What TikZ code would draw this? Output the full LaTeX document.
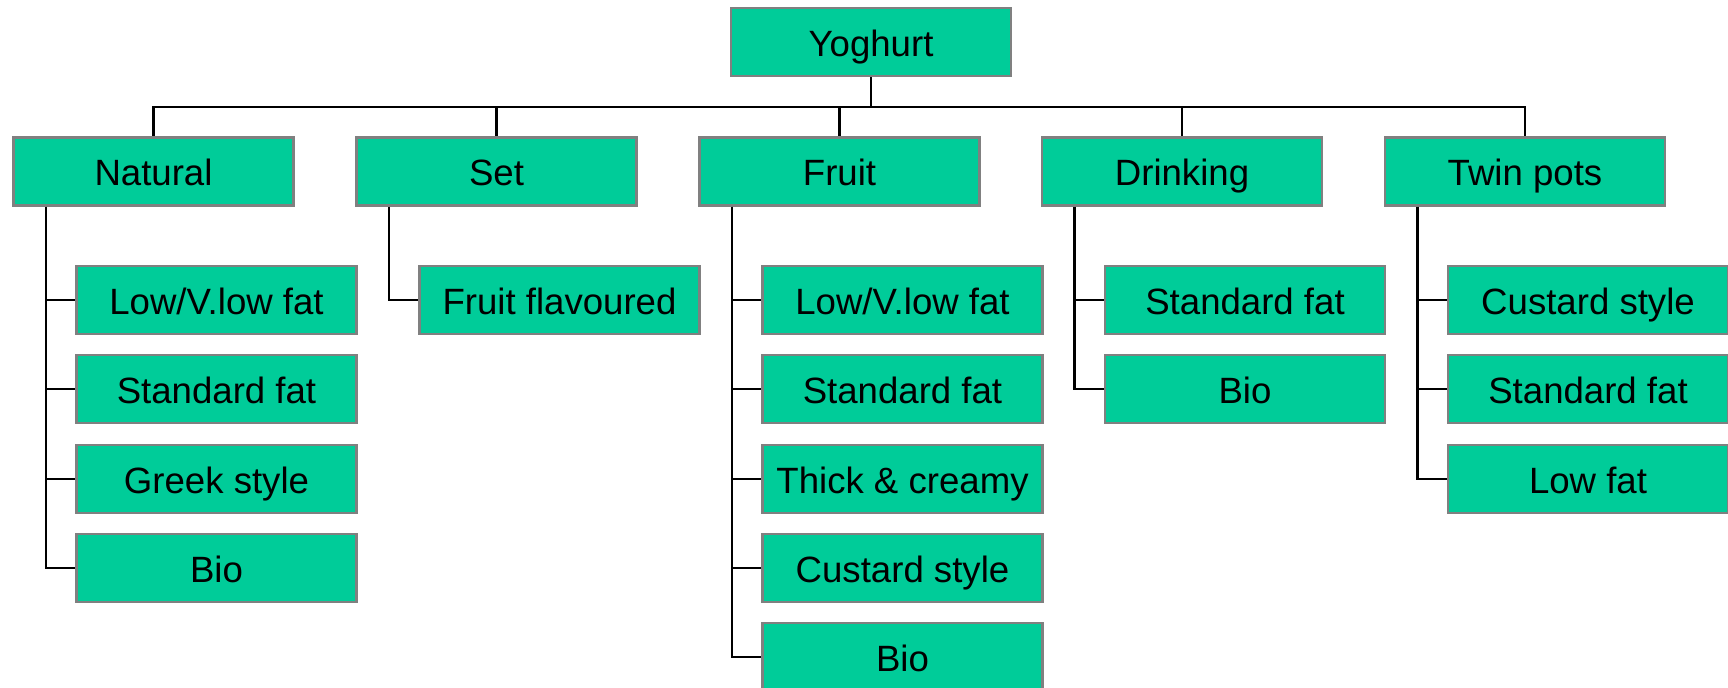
\documentclass[tikz,border=0pt]{standalone}
\usepackage{fontspec}
\setmainfont{Liberation Sans}
\definecolor{boxfill}{HTML}{00CC99}
\definecolor{boxedge}{HTML}{808080}
\begin{document}
\begin{tikzpicture}[x=0.5pt,y=-0.5pt,
  cat/.style={draw=boxedge, line width=1.3pt, fill=boxfill, rectangle,
    minimum width=140pt, minimum height=34pt, inner sep=0pt,
    text height=18.4pt, text depth=4pt,
    font=\fontsize{18.3pt}{22pt}\selectfont, text=black},
  link/.style={draw=black, line width=1.25pt}]
\useasboundingbox (0,0) rectangle (1728,688);

% root
\node[cat] (yog) at (871,42) {Yoghurt};

% first level
\node[cat] (nat) at (153.5,171.5) {Natural};
\node[cat] (set) at (496.5,171.5) {Set};
\node[cat] (fru) at (839.5,171.5) {Fruit};
\node[cat] (dri) at (1182,171.5) {Drinking};
\node[cat] (twi) at (1525,171.5) {Twin pots};

\coordinate (bus) at (0,107);
\foreach \n in {nat,set,fru,dri,twi}
  \draw[link] (yog.south) -- (yog.south |- bus) -| (\n.north);

% Natural
\node[cat] (nat1) at (216.5,300) {Low/V.low fat};
\node[cat] (nat2) at (216.5,389) {Standard fat};
\node[cat] (nat3) at (216.5,479) {Greek style};
\node[cat] (nat4) at (216.5,568) {Bio};
% Set
\node[cat] (set1) at (559.5,300) {Fruit flavoured};
% Fruit
\node[cat] (fru1) at (902.5,300) {Low/V.low fat};
\node[cat] (fru2) at (902.5,389) {Standard fat};
\node[cat] (fru3) at (902.5,479) {Thick \& creamy};
\node[cat] (fru4) at (902.5,568) {Custard style};
\node[cat] (fru5) at (902.5,657) {Bio};
% Drinking
\node[cat] (dri1) at (1245,300) {Standard fat};
\node[cat] (dri2) at (1245,389) {Bio};
% Twin pots
\node[cat] (twi1) at (1588,300) {Custard style};
\node[cat] (twi2) at (1588,389) {Standard fat};
\node[cat] (twi3) at (1588,479) {Low fat};

% child connectors
\foreach \p/\list in {nat/{1,2,3,4}, set/{1}, fru/{1,2,3,4,5}, dri/{1,2}, twi/{1,2,3}}
  \foreach \k in \list
    \draw[link] ([xshift=17pt]\p.south west) |- (\p\k.west);
\end{tikzpicture}
\end{document}
